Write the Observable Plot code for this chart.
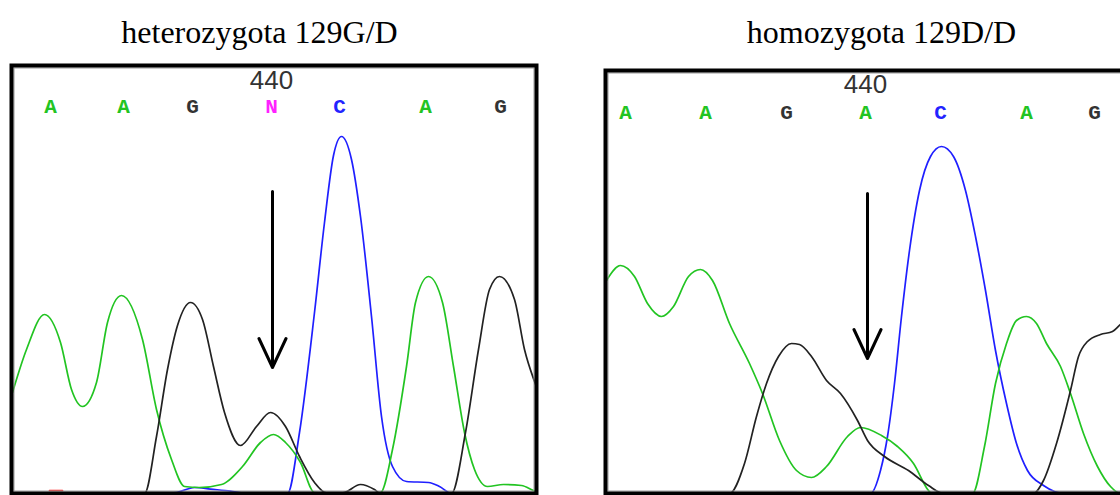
<!DOCTYPE html>
<html>
<head>
<meta charset="utf-8">
<script src="https://cdn.jsdelivr.net/npm/d3@7"></script>
<script src="https://cdn.jsdelivr.net/npm/@observablehq/plot@0.6"></script>
<style>
  html, body { margin: 0; padding: 0; background: #fff; overflow: hidden; }
  #page { position: relative; width: 1120px; height: 495px; overflow: hidden; background: #fff; }
  .title { position: absolute; top: 16px; font-family: "Liberation Serif", "Times New Roman", serif; font-size: 32px; line-height: 1; white-space: nowrap; color: #000; transform: translateX(-50%); }
  .panel { position: absolute; }
  .panel svg { max-width: none !important; display: block; }
</style>
</head>
<body>
<div id="page">
  <div class="title" style="left:259.5px">heterozygota 129G/D</div>
  <div class="title" style="left:881.5px">homozygota 129D/D</div>
  <div class="panel" id="het" style="left:9px; top:63px; width:529px; height:432px"></div>
  <div class="panel" id="hom" style="left:603px; top:68px; width:560px; height:427px"></div>
</div>
<script>
// ---- Data (scan position, signal intensity) ----
// Heterozygote 129G/D
const hetGreen = [[1,505],[15,720],[33,895],[49,755],[60,520],[71,435],[85,555],[96,855],[110,990],[131,770],[145,420],[160,170],[173,35],[188,30],[210,45],[231,135],[249,255],[262,295],[274,255],[289,155],[303,5],[329,0],[369,5],[381,220],[395,635],[404,955],[417,1085],[431,955],[442,635],[453,305],[463,120],[476,35],[492,45],[510,40],[522,15],[530,0]];
const hetBlack = [[120,0],[133,0],[145,285],[156,620],[166,840],[179,955],[191,870],[202,635],[213,405],[229,240],[245,335],[259,405],[274,335],[288,185],[303,55],[315,3],[331,3],[349,45],[363,20],[369,0],[440,0],[454,305],[467,720],[478,1020],[488,1085],[503,970],[513,720],[523,560],[530,470]];
const hetBlue = [[150,0],[165,5],[183,30],[199,22],[219,12],[235,0],[276,0],[288,305],[303,905],[313,1355],[322,1690],[330,1785],[340,1670],[349,1385],[360,885],[370,385],[381,135],[395,60],[417,55],[428,35],[440,0],[470,0]];
const hetRed = [[38,15],[51,15]];
const hetBases = ["A","A","G","N","C","A","G"];
const hetBasePos = [39,112,181,260,328,414,489];
const hetPosLabel = "440";
const hetArrow = [{x: 261, from: 1510, to: 630}];

// Homozygote 129D/D
const homGreen = [[1,1065],[15,1140],[29,1085],[42,950],[56,885],[68,935],[83,1085],[95,1120],[107,1065],[124,850],[144,650],[157,500],[174,265],[191,115],[206,80],[221,135],[242,285],[255,330],[276,290],[292,235],[308,150],[323,15],[326,0],[367,0],[379,235],[390,550],[401,750],[411,865],[421,885],[431,850],[441,750],[455,635],[465,500],[478,300],[492,135],[505,35],[515,0],[540,0]];
const homBlack = [[110,0],[124,0],[139,150],[151,385],[161,550],[173,685],[186,750],[194,745],[206,685],[221,565],[235,500],[252,365],[262,265],[279,185],[303,115],[323,40],[338,0],[428,0],[438,65],[451,250],[465,515],[473,685],[482,760],[495,795],[507,810],[515,845],[525,875]];
const homBlue = [[255,0],[265,0],[275,115],[282,285],[289,550],[296,885],[304,1215],[314,1515],[325,1685],[336,1735],[348,1685],[360,1515],[370,1285],[380,1015],[390,715],[401,450],[411,250],[422,115],[438,40],[458,0],[470,0]];
const homBlueFaint = [[171,5],[191,5]];
const homBases = ["A","A","G","A","C","A","G"];
const homBasePos = [20,100,181,260,335,421,489];
const homPosLabel = "440";
const homArrow = [{x: 262, from: 1500, to: 675}];

// ---- Styling ----
const baseColor = {A: "#22c422", C: "#2323ff", G: "#333333", T: "#ff2020", N: "#ff22ff"};
const traceStyle = {curve: "monotone-x", strokeWidth: 1.7, strokeLinejoin: "round"};

function toRows(arr) { return arr.map(([x, y]) => ({x, y})); }

function panel({width, height, xMax, yMax, traces, bases, basePos, posLabel, posIndex, arrow, baseDy, labelDy}) {
  const baseRows = bases.map((b, i) => ({b, x: basePos[i]}));
  return Plot.plot({
    width, height,
    marginLeft: 2, marginRight: 2, marginTop: 2, marginBottom: 2,
    x: {domain: [0, xMax], axis: null},
    y: {domain: [0, yMax], axis: null},
    style: {background: "transparent", overflow: "visible", maxWidth: "none"},
    marks: [
      ...traces.map(t => Plot.line(toRows(t.data), {x: "x", y: "y", stroke: t.color, ...traceStyle, clip: true})),
      Plot.text(baseRows, {x: "x", frameAnchor: "top", dy: baseDy, lineAnchor: "middle", text: "b",
        fill: d => baseColor[d.b], fontFamily: "Liberation Mono, monospace", fontWeight: "bold", fontSize: 21}),
      Plot.text([posLabel], {x: () => basePos[posIndex], frameAnchor: "top", dy: labelDy, lineAnchor: "middle",
        text: d => d, fill: "#333", fontFamily: "Liberation Sans, Arial, sans-serif", fontSize: 26}),
      Plot.arrow(arrow, {x1: "x", x2: "x", y1: "from", y2: "to", stroke: "#000", strokeWidth: 3, headLength: 16, headAngle: 50}),
      Plot.frame({stroke: "#9a9a9a", strokeWidth: 1, inset: 2.5}),
      Plot.frame({stroke: "#000", strokeWidth: 4})
    ]
  });
}

document.getElementById("het").appendChild(panel({
  width: 529, height: 432, xMax: 525, yMax: 2140,
  traces: [
    {data: hetRed, color: "#ff1a1a"},
    {data: hetBlue, color: "#1f1fff"},
    {data: hetGreen, color: "#22c422"},
    {data: hetBlack, color: "#222222"}
  ],
  bases: hetBases, basePos: hetBasePos, posLabel: hetPosLabel, posIndex: 3,
  arrow: hetArrow, baseDy: 41, labelDy: 15
}));

document.getElementById("hom").appendChild(panel({
  width: 560, height: 427, xMax: 556, yMax: 2115,
  traces: [
    {data: homBlueFaint, color: "#a8a8ff"},
    {data: homBlue, color: "#1f1fff"},
    {data: homGreen, color: "#22c422"},
    {data: homBlack, color: "#222222"}
  ],
  bases: homBases, basePos: homBasePos, posLabel: homPosLabel, posIndex: 3,
  arrow: homArrow, baseDy: 42, labelDy: 14
}));
</script>
</body>
</html>
